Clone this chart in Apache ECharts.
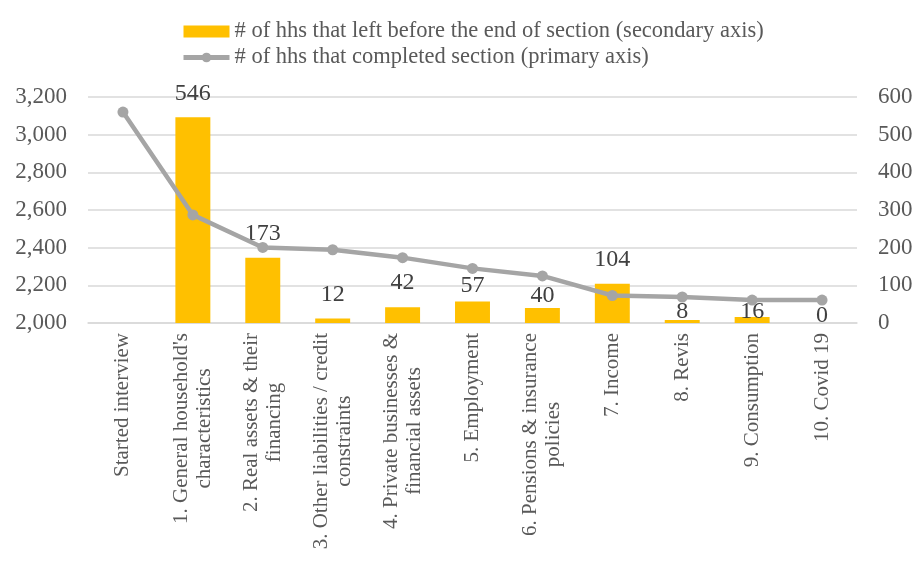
<!DOCTYPE html>
<html>
<head>
<meta charset="utf-8">
<script src="https://cdn.jsdelivr.net/npm/echarts@6/dist/echarts.min.js"></script>
<style>
  html, body { margin: 0; padding: 0; background: #fff; }
  #main { width: 919px; height: 577px; }
</style>
</head>
<body>
<div id="main"></div>
<script>
// sections of the questionnaire
var sections = [
    "Started interview",
    "1. General household's\ncharacteristics",
    "2. Real assets & their\nfinancing",
    "3. Other liabilities / credit\nconstraints",
    "4. Private businesses &\nfinancial assets",
    "5. Employment",
    "6. Pensions & insurance\npolicies",
    "7. Income",
    "8. Revis",
    "9. Consumption",
    "10. Covid 19"
];
// hhs that left before the end of section (secondary axis)
var leftHhs = ['-', 546, 173, 12, 42, 57, 40, 104, 8, 16, 0];
// hhs that completed section (primary axis)
var completedHhs = [3120, 2574, 2401, 2389, 2347, 2290, 2250, 2146, 2138, 2122, 2122];

var leftTicks = [2000, 3200, 200];
var rightTicks = [0, 600, 100];

var barName = "# of hhs that left before the end of section (secondary axis)";
var lineName = "# of hhs that completed section (primary axis)";

var font = "'Liberation Serif', 'DejaVu Serif', serif";
var textColor = '#595959';

// some labels were pushed down under the line in the original
var labelShift = [0, 0, 0, 0, 0, 8, 12, 0, 16, 19, 17];

var chart = echarts.init(document.getElementById('main'));

var barData = leftHhs.map(function (v, i) {
    return {
        value: v,
        label: { offset: [0, labelShift[i]] }
    };
});

chart.setOption({
    animation: false,
    textStyle: { fontFamily: font, color: textColor },
    legend: {
        orient: 'vertical',
        left: 176,
        top: 15,
        itemWidth: 46,
        itemHeight: 12,
        itemGap: 3,
        textStyle: { fontFamily: font, fontSize: 22.5, color: textColor, lineHeight: 22 },
        data: [
            { name: barName, icon: 'rect' },
            { name: lineName, lineStyle: { width: 5, color: '#A5A5A5' }, itemStyle: { color: '#A5A5A5' } }
        ]
    },
    grid: { left: 88, right: 62, top: 97, bottom: 254 },
    xAxis: {
        type: 'category',
        data: sections,
        axisLine: { lineStyle: { color: '#D9D9D9', width: 1.5 } },
        axisTick: { show: false },
        axisLabel: {
            interval: 0,
            rotate: 90,
            margin: 10,
            fontFamily: font,
            fontSize: 21,
            lineHeight: 23,
            color: textColor,
            formatter: function (v) {
                return v.split('\n').map(function (s) { return '{c|' + s + '}'; }).join('\n');
            },
            rich: {
                c: { align: 'center', fontFamily: font, fontSize: 21, lineHeight: 23, color: textColor }
            }
        }
    },
    yAxis: [{
        type: 'value',
        min: leftTicks[0],
        max: leftTicks[1],
        interval: leftTicks[2],
        axisLine: { show: false },
        axisTick: { show: false },
        axisLabel: {
            margin: 21,
            fontFamily: font,
            fontSize: 23,
            color: textColor,
            formatter: function (v) { return v.toLocaleString('en-US'); }
        },
        splitLine: { lineStyle: { color: '#D9D9D9', width: 1.5 } }
    }, {
        type: 'value',
        min: rightTicks[0],
        max: rightTicks[1],
        interval: rightTicks[2],
        axisLine: { show: false },
        axisTick: { show: false },
        axisLabel: { margin: 21, fontFamily: font, fontSize: 23, color: textColor },
        splitLine: { show: false }
    }],
    series: [{
        name: barName,
        type: 'bar',
        yAxisIndex: 1,
        barWidth: '50%',
        itemStyle: { color: '#FFC000' },
        label: {
            show: true,
            position: 'top',
            distance: 12,
            fontFamily: font,
            fontSize: 24,
            color: '#404040'
        },
        data: barData
    }, {
        name: lineName,
        type: 'line',
        yAxisIndex: 0,
        symbol: 'circle',
        symbolSize: 11,
        z: 5,
        lineStyle: { color: '#A5A5A5', width: 4.5 },
        itemStyle: { color: '#A5A5A5' },
        data: completedHhs
    }]
});
</script>
</body>
</html>
